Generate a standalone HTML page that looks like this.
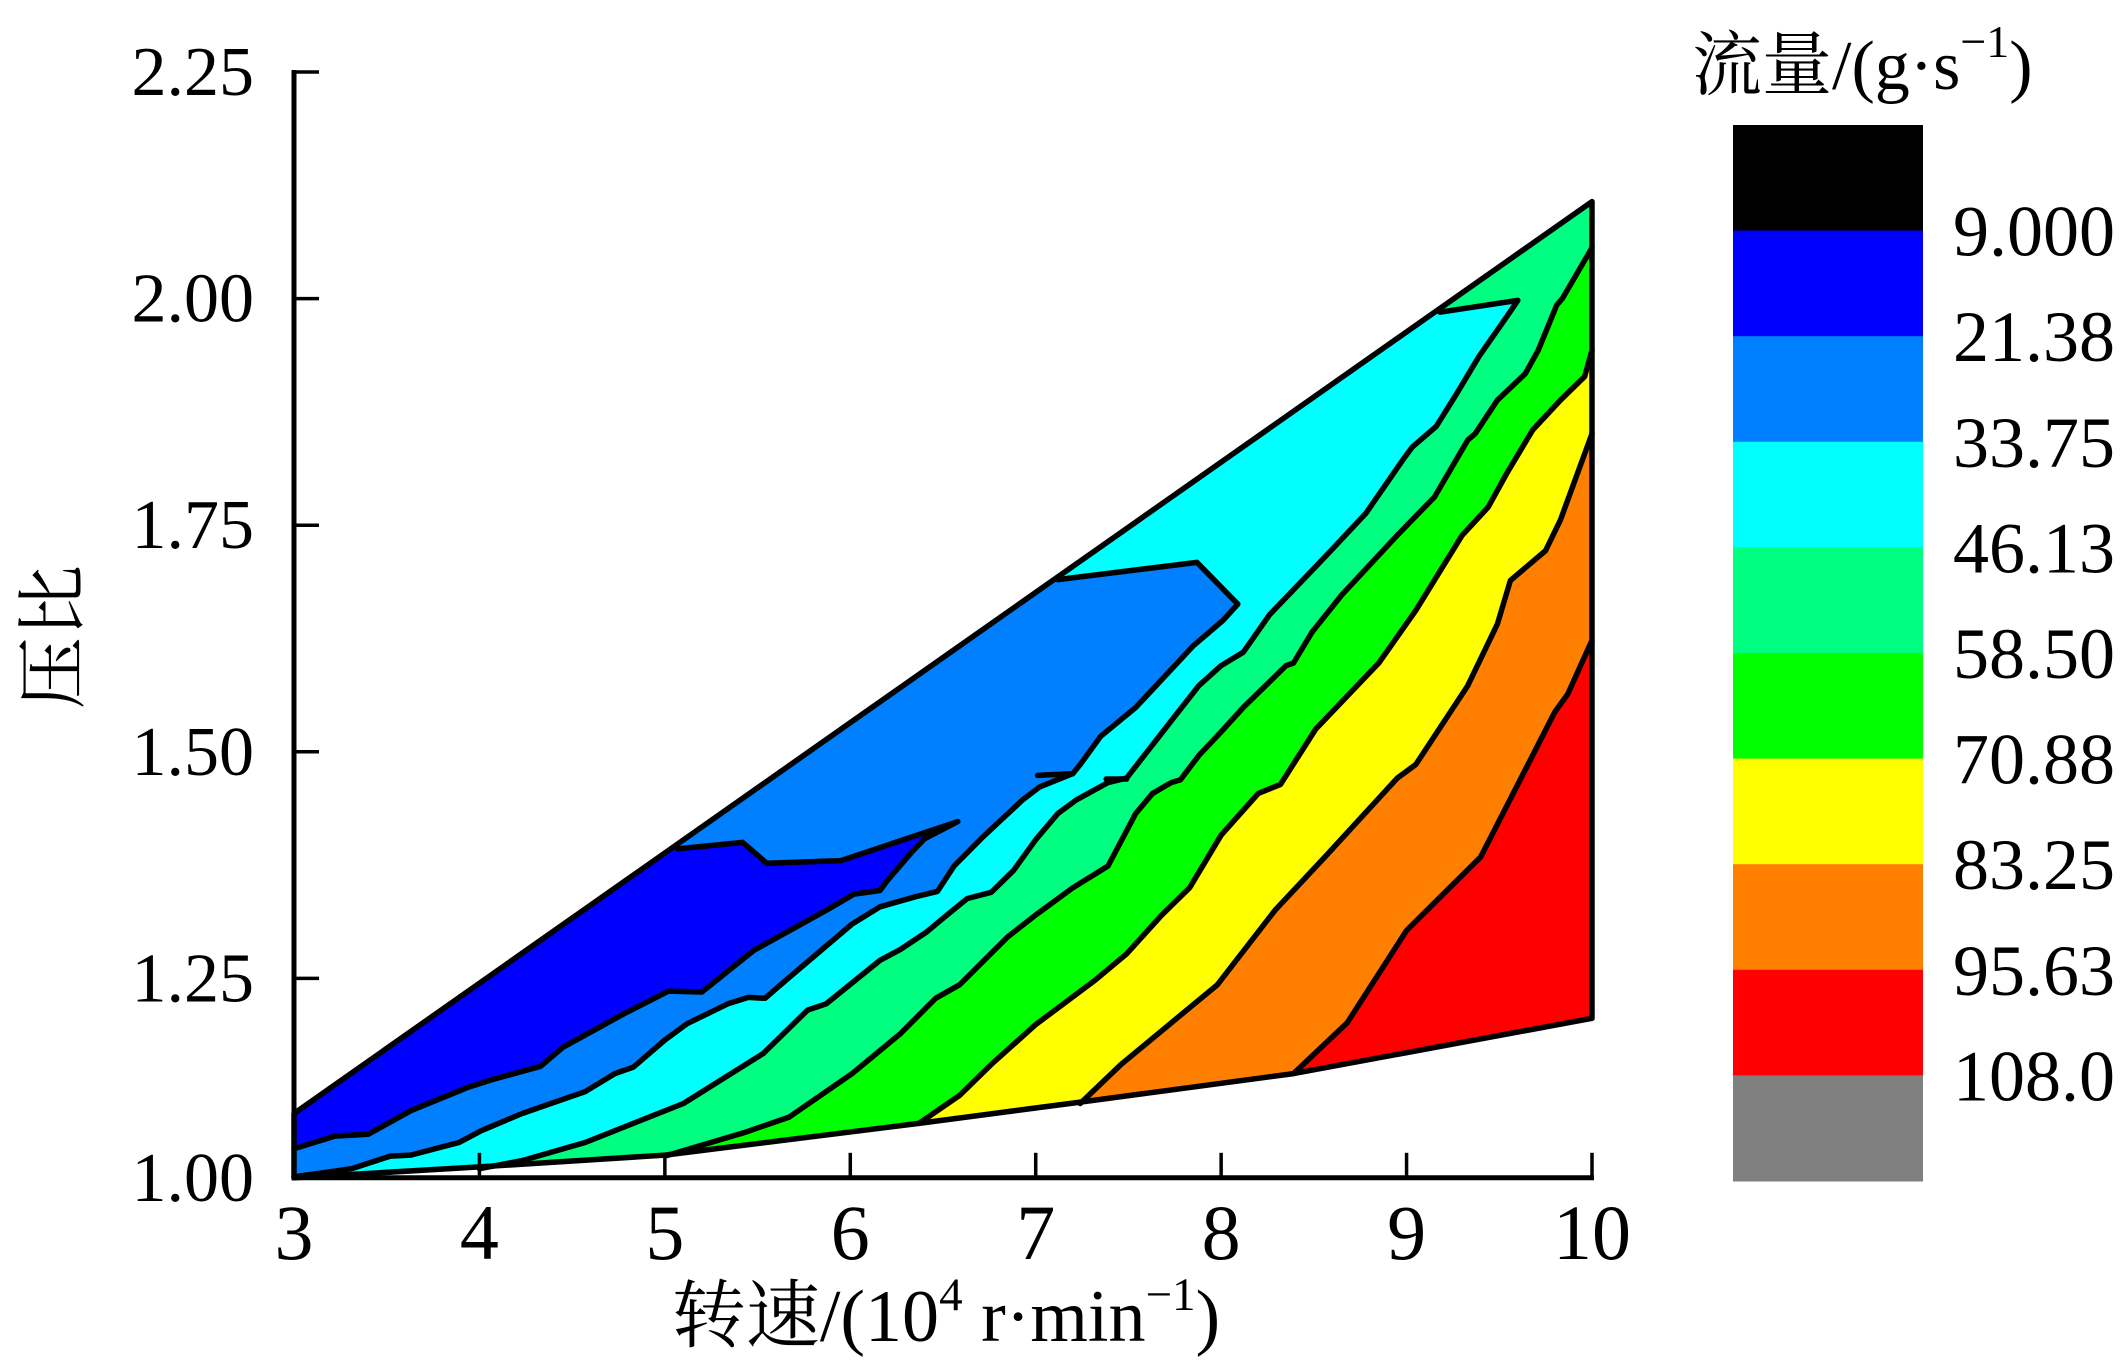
<!DOCTYPE html>
<html><head><meta charset="utf-8">
<style>
html,body{margin:0;padding:0;background:#fff;}
svg{display:block;}
text{font-family:"Liberation Serif","Noto Serif CJK SC","Noto Sans CJK SC",serif;fill:#000;}
</style></head>
<body>
<svg id="chart" width="2126" height="1360" viewBox="0 0 2126 1360" xmlns="http://www.w3.org/2000/svg">
<defs><clipPath id="domclip"><path id="domclip-path" d=""/></clipPath></defs>
<g id="bands" clip-path="url(#domclip)"></g>
<g id="lines"></g>
<g id="axes"></g>
<g id="cbar"></g>
<text x="0" y="0" font-size="72" text-anchor="middle" transform="translate(78,637) rotate(-90)">压比</text>
<text x="946" y="1341" font-size="74" text-anchor="middle">转速/(10<tspan font-size="47" dy="-31">4</tspan><tspan dy="31"> r·min</tspan><tspan font-size="47" dy="-31">−1</tspan><tspan dy="31">)</tspan></text>
<text x="1692" y="89" font-size="70">流量/(g·s<tspan font-size="46" dy="-32">−1</tspan><tspan dy="32">)</tspan></text>
</svg>
<script>
// ---- data ----
const xTicks = [3,4,5,6,7,8,9,10];
const xTickLabels = ['3','4','5','6','7','8','9','10'];
const yTicks = [1.00,1.25,1.50,1.75,2.00,2.25];
const yTickLabels = ['1.00','1.25','1.50','1.75','2.00','2.25'];
const levelLabels = ['9.000','21.38','33.75','46.13','58.50','70.88','83.25','95.63','108.0'];
const bandColors = ['#000000','#0000ff','#0080ff','#00ffff','#00ff80','#00ff00','#ffff00','#ff8000','#ff0000','#808080'];
const topBoundary = [[3,1.101],[10,2.107]];
const bottomBoundary = [[3,1.030],[4.0,1.042],[5.0,1.055],[6.37,1.090],[7.22,1.113],[8.39,1.145],[10,1.206]];
const contourD = [[5.07,1.393],[5.42,1.400],[5.55,1.377],[5.95,1.380],[6.58,1.423],[6.40,1.404],[6.33,1.389],[6.20,1.358],[6.16,1.347],[6.02,1.343],[5.87,1.325],[5.48,1.281],[5.20,1.235],[5.02,1.236],[4.78,1.211],[4.45,1.174],[4.33,1.153],[4.08,1.139],[3.94,1.130],[3.63,1.104],[3.40,1.078],[3.22,1.076],[3,1.062]];
const contourE = [[7.12,1.690],[7.87,1.709],[8.09,1.663],[8.01,1.645],[7.85,1.617],[7.54,1.549],[7.35,1.517],[7.24,1.486],[7.20,1.476],[7.02,1.461],[6.93,1.447],[6.71,1.405],[6.56,1.374],[6.47,1.346],[6.35,1.340],[6.16,1.329],[6.01,1.310],[5.67,1.251],[5.54,1.228],[5.45,1.229],[5.34,1.222],[5.12,1.200],[5.00,1.182],[4.83,1.152],[4.73,1.145],[4.57,1.125],[4.23,1.101],[4.01,1.082],[3.89,1.069],[3.63,1.055],[3.52,1.054],[3.31,1.040],[3,1.031]];
const contourF = [[9.18,1.985],[9.60,1.998],[9.54,1.980],[9.39,1.936],[9.27,1.895],[9.16,1.859],[9.03,1.836],[8.99,1.825],[8.78,1.763],[8.61,1.726],[8.49,1.700],[8.26,1.651],[8.12,1.610],[8.00,1.595],[7.88,1.573],[7.73,1.534],[7.49,1.471],[7.39,1.466],[7.22,1.447],[7.12,1.432],[7.00,1.403],[6.88,1.369],[6.76,1.345],[6.63,1.338],[6.51,1.318],[6.41,1.301],[6.27,1.282],[6.16,1.270],[5.87,1.222],[5.77,1.215],[5.53,1.167],[5.10,1.112],[4.57,1.069],[4.23,1.049],[4.0,1.040]];
const contourG = [[10,2.056],[9.84,2.000],[9.81,1.993],[9.71,1.943],[9.64,1.917],[9.49,1.888],[9.37,1.851],[9.33,1.844],[9.15,1.781],[8.95,1.739],[8.65,1.673],[8.49,1.632],[8.39,1.598],[8.35,1.595],[8.12,1.549],[8.00,1.522],[7.88,1.496],[7.78,1.469],[7.73,1.466],[7.63,1.454],[7.54,1.432],[7.39,1.374],[7.20,1.350],[7.00,1.320],[6.85,1.296],[6.59,1.243],[6.46,1.228],[6.27,1.189],[6.01,1.145],[5.67,1.097],[5.43,1.080],[5.0,1.054]];
const contourH = [[10,1.943],[9.96,1.914],[9.83,1.888],[9.68,1.855],[9.54,1.807],[9.44,1.770],[9.30,1.739],[9.05,1.656],[8.85,1.598],[8.51,1.525],[8.32,1.464],[8.20,1.454],[8.00,1.408],[7.83,1.350],[7.68,1.320],[7.49,1.277],[7.32,1.248],[7.00,1.199],[6.76,1.155],[6.59,1.121],[6.37,1.090]];
const contourI = [[10,1.851],[9.83,1.756],[9.75,1.722],[9.56,1.689],[9.49,1.641],[9.33,1.573],[9.05,1.486],[8.95,1.471],[8.56,1.384],[8.29,1.325],[7.98,1.243],[7.46,1.155],[7.24,1.112]];
const contourJ = [[10,1.623],[9.87,1.564],[9.80,1.544],[9.40,1.384],[9.00,1.303],[8.68,1.201],[8.39,1.145]];
const stubs = [[[7.01,1.474],[7.20,1.476]],[[7.38,1.470],[7.49,1.470]]];

// ---- scales ----
const X0=294, X1=1592, XMIN=3, XMAX=10;
const YTOP=72, YMAXV=2.25, YPERUNIT=906.4, YMINV=1.03;
function sx(v){return X0+(v-XMIN)*(X1-X0)/(XMAX-XMIN);}
function sy(v){return YTOP+(YMAXV-Math.max(v,YMINV))*YPERUNIT;}
function pts(a){return a.map(p=>sx(p[0]).toFixed(1)+','+sy(p[1]).toFixed(1)).join(' ');}
const NS='http://www.w3.org/2000/svg';
function mk(tag,attrs,parent){const e=document.createElementNS(NS,tag);for(const k in attrs)e.setAttribute(k,attrs[k]);parent.appendChild(e);return e;}

const domain = topBoundary.concat([[10,bottomBoundary[bottomBoundary.length-1][1]]]).concat(bottomBoundary.slice().reverse());
document.getElementById('domclip-path').setAttribute('d','M'+pts(domain).split(' ').join(' L')+' Z');

const bands=document.getElementById('bands');
const base=mk('polygon',{points:pts(domain),fill:bandColors[8]},bands);



function regionUpperLeft(c){
  const S=c[0], E=c[c.length-1];
  const poly=c.slice();
  if(E[0]>3.01){poly.push([E[0],0.8]);poly.push([2.8,0.8]);}
  else {poly.push([2.8,E[1]]);}
  poly.push([2.8,2.5]);
  if(S[0]>=9.99){poly.push([10.3,2.5]);poly.push([10.3,S[1]]);}
  else {poly.push([S[0],2.5]);}
  return poly;
}
function sxr(v){return X0+(v-XMIN)*(X1-X0)/(XMAX-XMIN);}
function syr(v){return YTOP+(YMAXV-v)*YPERUNIT;}
function ptsRaw(a){return a.map(p=>sxr(p[0]).toFixed(1)+','+syr(p[1]).toFixed(1)).join(' ');}

const contours=[contourJ,contourI,contourH,contourG,contourF,contourE,contourD];
const contourColors=[bandColors[7],bandColors[6],bandColors[5],bandColors[4],bandColors[3],bandColors[2],bandColors[1]];
const names=['orange','yellow','green','spring-green','cyan','azure','blue'];
contours.forEach((c,i)=>{
  const p=mk('polygon',{points:ptsRaw(regionUpperLeft(c)),fill:contourColors[i]},bands);
  
  
});
const lines=document.getElementById('lines');
contours.forEach((c,i)=>{
  const l=mk('polyline',{points:ptsRaw(c),fill:'none',stroke:'#000','stroke-width':5.5,'stroke-linejoin':'round','stroke-linecap':'round'},lines);
  
  
});
stubs.forEach(s=>{
  const l=mk('polyline',{points:ptsRaw(s),fill:'none',stroke:'#000','stroke-width':5.5,'stroke-linecap':'round'},lines);
  
  
});
const outline=mk('polygon',{points:ptsRaw(domain),fill:'none',stroke:'#000','stroke-width':5.5,'stroke-linejoin':'round'},lines);



const axes=document.getElementById('axes');
const yb=sy(YMINV);
const ya=mk('line',{x1:X0,y1:YTOP-2,x2:X0,y2:yb+2.5,stroke:'#000','stroke-width':5},axes);


const xa=mk('line',{x1:X0-2.5,y1:yb,x2:X1+2,y2:yb,stroke:'#000','stroke-width':5},axes);


xTicks.forEach((v,i)=>{
  const t=mk('line',{x1:sx(v),y1:yb,x2:sx(v),y2:yb-25,stroke:'#000','stroke-width':3.5},axes);
  
  
  const tx=mk('text',{x:sx(v),y:1259,'font-size':78,'text-anchor':'middle'},axes);
  tx.textContent=xTickLabels[i];
  
  
});
yTicks.forEach((v,i)=>{
  if(v>YMINV){
    const t=mk('line',{x1:X0,y1:sy(v),x2:X0+25,y2:sy(v),stroke:'#000','stroke-width':3.5},axes);
    
    
  }
  const tx=mk('text',{x:254,y:sy(v)+23,'font-size':70,'text-anchor':'end'},axes);
  tx.textContent=yTickLabels[i];
  
  
});

const cbar=document.getElementById('cbar');
const CB_X=1733, CB_W=190, CB_TOP=125, CB_BOT=1181;
const bh=(CB_BOT-CB_TOP)/bandColors.length;
bandColors.forEach((c,i)=>{
  const r=mk('rect',{x:CB_X,y:CB_TOP+i*bh,width:CB_W,height:bh+0.5,fill:c},cbar);
  
  
});
levelLabels.forEach((s,i)=>{
  const t=mk('text',{x:1953,y:CB_TOP+(i+1)*bh+25,'font-size':72},cbar);
  t.textContent=s;
  
  
});
</script>
</body></html>
